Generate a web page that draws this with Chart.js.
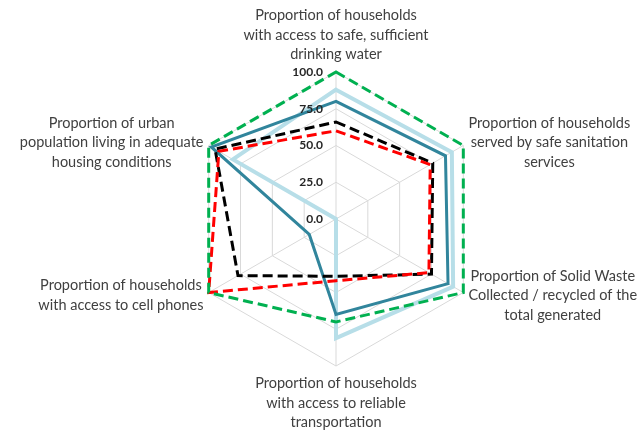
<!DOCTYPE html>
<html>
<head>
<meta charset="utf-8">
<script src="https://cdn.jsdelivr.net/npm/chart.js@4.4.1/dist/chart.umd.min.js"></script>
<style>
  html, body { margin: 0; padding: 0; background: #fff; overflow: hidden; }
  #wrap { width: 638px; height: 430px; }
</style>
</head>
<body>
<div id="wrap"><canvas id="radarChart" width="638" height="430"></canvas></div>
<script>
// axis labels, clockwise from the top (each one already split into lines)
const categories = [
    ['Proportion of households', 'with access to safe, sufficient', 'drinking water'],
    ['Proportion of households', 'served by safe sanitation', 'services'],
    ['Proportion of Solid Waste', 'Collected / recycled of the', 'total generated'],
    ['Proportion of households', 'with access to reliable', 'transportation'],
    ['Proportion of households', 'with access to cell phones'],
    ['Proportion of urban', 'population living in adequate', 'housing conditions']
];
const tickLabels = ['0.0', '25.0', '50.0', '75.0', '100.0'];

const greenSeries = [100, 100, 100, 70, 100, 100];
const redSeries = [60, 74, 73, 42, 100, 92];
const blackSeries = [66, 76, 75, 39, 77, 95];
const tealSeries = [80, 86, 88, 65, 21, 98];
const lightBlueSeries = [88, 91, 92, 81, 0, 81];

const labelFont = '14.5px Lato, "Open Sans", sans-serif';
const lineH = 19.5;

// Excel-like labels: point labels centred on the vertex, ticks left of the vertical axis
const excelLabels = {
    id: 'excelLabels',
    beforeDatasetsDraw(chart) {
        const s = chart.scales.r;
        const ctx = chart.ctx;
        ctx.save();
        ctx.font = labelFont;
        ctx.fillStyle = '#404040';
        ctx.textAlign = 'center';
        ctx.textBaseline = 'middle';
        categories.forEach((lines, i) => {
            const p = s.getPointPosition(i, s.drawingArea + 6);
            const deg = Math.round(s.getIndexAngle(i) * 180 / Math.PI);
            const w = Math.max(...lines.map(l => ctx.measureText(l).width));
            const n = lines.length;
            let cx, y0;
            if (deg === 0) {
                cx = p.x;
                y0 = p.y - 11.5 - (n - 1) * lineH;
            } else if (deg === 180) {
                cx = p.x;
                y0 = p.y + 11.5;
            } else {
                cx = deg < 180 ? p.x + w / 2 : p.x - w / 2;
                y0 = p.y - (n - 1) * lineH / 2;
            }
            lines.forEach((l, k) => ctx.fillText(l, cx, y0 + k * lineH));
        });
        ctx.restore();
    },
    afterDatasetsDraw(chart) {
        const s = chart.scales.r;
        const ctx = chart.ctx;
        ctx.save();
        ctx.font = 'bold 12px Lato, "Open Sans", sans-serif';
        ctx.fillStyle = '#262626';
        ctx.textAlign = 'right';
        ctx.textBaseline = 'middle';
        tickLabels.forEach(t => {
            const d = s.getDistanceFromCenterForValue(parseFloat(t));
            ctx.fillText(t, s.xCenter - 13, s.yCenter - d);
        });
        ctx.restore();
    }
};

const ctx = document.getElementById('radarChart').getContext('2d');
new Chart(ctx, {
    type: 'radar',
    data: {
        labels: categories,
        datasets: [
            { data: greenSeries, borderColor: '#00B050', borderDash: [10, 5], borderWidth: 3 },
            { data: redSeries, borderColor: '#FF0000', borderDash: [10, 5], borderWidth: 3 },
            { data: blackSeries, borderColor: '#000000', borderDash: [10, 5], borderWidth: 3 },
            { data: tealSeries, borderColor: '#31859C', borderWidth: 3 },
            { data: lightBlueSeries, borderColor: '#B7DEE8', borderWidth: 4 }
        ]
    },
    options: {
        responsive: false,
        animation: false,
        devicePixelRatio: 1,
        layout: { padding: { top: 72, bottom: 64, left: 34, right: 0 } },
        elements: {
            line: { fill: false, tension: 0, borderJoinStyle: 'miter' },
            point: { radius: 0, hoverRadius: 0 }
        },
        plugins: { legend: { display: false }, tooltip: { enabled: false } },
        scales: {
            r: {
                min: 0,
                max: 100,
                ticks: { stepSize: 25, display: false },
                pointLabels: { display: false },
                grid: { color: '#D9D9D9', lineWidth: 1 },
                angleLines: { color: '#D9D9D9', lineWidth: 1 }
            }
        }
    },
    plugins: [excelLabels]
});
</script>
</body>
</html>
